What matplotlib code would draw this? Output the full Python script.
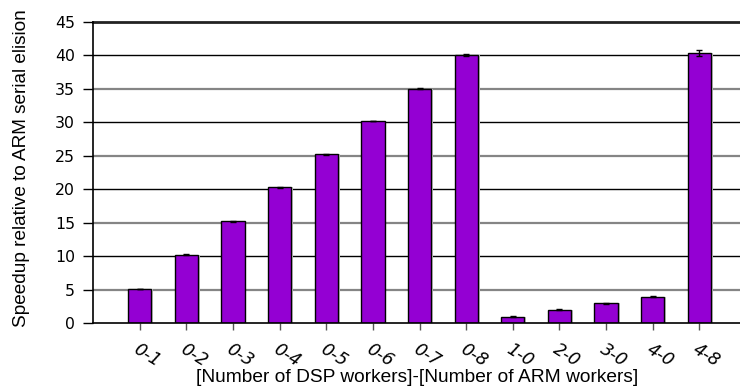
import matplotlib
matplotlib.use("Agg")
import matplotlib.pyplot as plt
import numpy as np

categories = ["0-1", "0-2", "0-3", "0-4", "0-5", "0-6", "0-7", "0-8",
              "1-0", "2-0", "3-0", "4-0", "4-8"]
speedup = [5.1, 10.2, 15.2, 20.3, 25.2, 30.2, 35.0, 40.0,
           0.95, 2.0, 2.95, 3.95, 40.35]
error = [0.05, 0.08, 0.05, 0.08, 0.07, 0.06, 0.08, 0.15,
         0.06, 0.08, 0.05, 0.06, 0.4]
yticks = [0, 5, 10, 15, 20, 25, 30, 35, 40, 45]

plt.rcParams["font.family"] = ["DejaVu Sans"]
label_font = ["Liberation Sans", "DejaVu Sans"]

W, H = 740, 389
fig = plt.figure(figsize=(W / 100, H / 100), dpi=100)
ax = fig.add_axes([93 / W, 1 - 323 / H, 1 - 93 / W, (323 - 22) / H])

x = np.arange(len(categories))

# horizontal gridlines: alternating black / gray
for v in yticks[1:-1]:
    major = v % 10 == 0
    ax.axhline(v, color="black" if major else "#858585",
               lw=1.0 if major else 1.6, zorder=0)
ax.axhline(45, color="#222222", lw=2.0, zorder=0, clip_on=False)

# soft shadow behind bars
ax.bar(x + 0.03, speedup, width=0.52, color="#c8c8c8", zorder=1)
ax.bar(x, speedup, width=0.5, color="#9400D3", edgecolor="black",
       linewidth=1.0, zorder=2)
ax.errorbar(x, speedup, yerr=error, fmt="none", ecolor="black",
            elinewidth=1.0, capsize=2.5, capthick=1.0, zorder=3)

ax.set_xlim(-1.0, 12.87)
ax.set_ylim(0, 45)
ax.set_yticks(yticks)
ax.tick_params(axis="y", labelsize=11.3, length=7, width=1.0, pad=6)
ax.set_xticks(x)
ax.set_xticklabels(categories, rotation=-32, ha="left", va="top",
                   rotation_mode="anchor", fontsize=12.5, style="oblique")
ax.tick_params(axis="x", length=5, width=1.0, color="#555555", pad=7)

for s in ["top", "right"]:
    ax.spines[s].set_visible(False)
ax.spines["left"].set_linewidth(1.2)
ax.spines["bottom"].set_linewidth(1.2)

fig.text(22 / W, 1 - 168 / H, "Speedup relative to ARM serial elision",
         rotation=90, ha="center", va="center", fontsize=13.7,
         family=label_font)
fig.text(417.5 / W, 1 - 382 / H,
         "[Number of DSP workers]-[Number of ARM workers]",
         ha="center", va="baseline", fontsize=13.8, family=label_font)

fig.savefig("out.png", dpi=100)
